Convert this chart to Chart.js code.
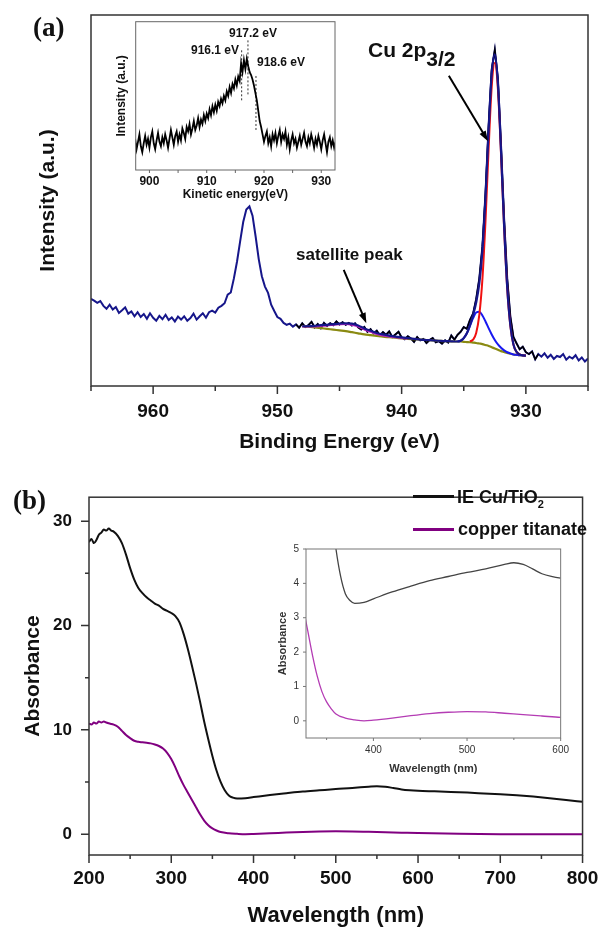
<!DOCTYPE html>
<html>
<head>
<meta charset="utf-8">
<script src="https://cdn.jsdelivr.net/npm/chart.js@4.4.1/dist/chart.umd.min.js"></script>
<style>
  body { margin: 0; background: #fff; font-family: 'Liberation Sans', Arial, sans-serif; }
  #wrap { position: relative; width: 611px; height: 929px; overflow: hidden; }
  canvas { position: absolute; }
  .lbl { position: absolute; white-space: nowrap; color: #111; }
  .panel { font-family: 'Liberation Serif', 'Times New Roman', serif; font-weight: bold; font-size: 27px; line-height: 30px; }
  .ann { font-weight: bold; font-size: 12px; line-height: 14px; }
  .leg { font-weight: bold; font-size: 18px; line-height: 22px; }
  .swatch { position: absolute; width: 41px; height: 2.5px; }
</style>
</head>
<body>
<div id="wrap">
  <canvas id="xps" width="611" height="460" style="left:0;top:0"></canvas>
  <canvas id="auger" width="245" height="205" style="left:100px;top:10px"></canvas>
  <canvas id="uv" width="611" height="459" style="left:0;top:470px"></canvas>
  <canvas id="uvZoom" width="305" height="245" style="left:270px;top:536px"></canvas>

  <div class="lbl panel" style="left:33px;top:12px">(a)</div>
  <div class="lbl" style="left:368px;top:38px;font-size:21px;line-height:24px;font-weight:bold">Cu 2p<span style="position:relative;top:9px">3/2</span></div>
  <div class="lbl" style="left:296px;top:245px;font-weight:bold;font-size:17px;line-height:20px">satellite peak</div>
  <div class="lbl ann" style="left:229px;top:26px">917.2 eV</div>
  <div class="lbl ann" style="left:191px;top:43px">916.1 eV</div>
  <div class="lbl ann" style="left:257px;top:55px">918.6 eV</div>

  <div class="lbl panel" style="left:13px;top:485px">(b)</div>
  <div class="swatch" style="left:413px;top:495px;background:#111"></div>
  <div class="lbl leg" style="left:457px;top:486px">IE Cu/TiO<sub style="font-size:11px">2</sub></div>
  <div class="swatch" style="left:413px;top:528px;background:#800080"></div>
  <div class="lbl leg" style="left:458px;top:518px">copper titanate</div>
</div>
<script>
// ---- (a) Cu 2p XPS, intensity in arbitrary units (0-100) ----
const xpsE = [
  965.00, 964.75, 964.50, 964.25,
  964.00, 963.75, 963.50, 963.25,
  963.00, 962.75, 962.50, 962.25,
  962.00, 961.75, 961.50, 961.25,
  961.00, 960.75, 960.50, 960.25,
  960.00, 959.75, 959.50, 959.25,
  959.00, 958.75, 958.50, 958.25,
  958.00, 957.75, 957.50, 957.25,
  957.00, 956.75, 956.50, 956.25,
  956.00, 955.75, 955.50, 955.25,
  955.00, 954.75, 954.50, 954.25,
  954.00, 953.75, 953.50, 953.25,
  953.00, 952.75, 952.50, 952.25,
  952.00, 951.75, 951.50, 951.25,
  951.00, 950.75, 950.50, 950.25,
  950.00, 949.75, 949.50, 949.25,
  949.00, 948.75, 948.50, 948.25,
  948.00, 947.75, 947.50, 947.25,
  947.00, 946.75, 946.50, 946.25,
  946.00, 945.75, 945.50, 945.25,
  945.00, 944.75, 944.50, 944.25,
  944.00, 943.75, 943.50, 943.25,
  943.00, 942.75, 942.50, 942.25,
  942.00, 941.75, 941.50, 941.25,
  941.00, 940.75, 940.50, 940.25,
  940.00, 939.75, 939.50, 939.25,
  939.00, 938.75, 938.50, 938.25,
  938.00, 937.75, 937.50, 937.25,
  937.00, 936.75, 936.50, 936.25,
  936.00, 935.75, 935.50, 935.25,
  935.00, 934.75, 934.50, 934.25,
  934.00, 933.75, 933.50, 933.25,
  933.00, 932.75, 932.50, 932.25,
  932.00, 931.75, 931.50, 931.25,
  931.00, 930.75, 930.50, 930.25,
  930.00, 929.75, 929.50, 929.25,
  929.00, 928.75, 928.50, 928.25,
  928.00, 927.75, 927.50, 927.25,
  927.00, 926.75, 926.50, 926.25,
  926.00, 925.75, 925.50, 925.25,
  925.00
];
const xpsI = [
  23.5, 23.0, 22.4, 22.9,
  21.6, 20.8, 21.9, 20.6,
  21.3, 19.7, 20.4, 21.2,
  19.5, 20.1, 18.8, 19.9,
  18.6, 19.4, 18.1, 19.6,
  18.4, 17.6, 18.9, 18.0,
  19.2, 17.8, 18.5, 17.4,
  18.7, 17.9, 18.8, 17.6,
  18.3, 19.5, 17.9, 18.8,
  19.6, 18.4, 19.9, 20.3,
  19.8, 21.1, 21.6, 22.3,
  24.6, 25.2, 29.0, 33.5,
  38.9, 44.2, 47.6, 48.4,
  45.9, 40.3, 34.2, 29.6,
  26.8, 25.1, 21.9, 20.2,
  18.6, 18.1, 17.0, 16.5,
  16.8, 16.0, 16.6, 15.7,
  16.9, 15.9, 16.4, 17.3,
  15.8, 16.7, 15.6, 17.0,
  16.2, 16.9, 16.4, 17.4,
  16.6, 17.2, 16.5, 17.0,
  16.3, 16.9, 15.8, 15.2,
  15.9, 14.6, 15.3, 14.2,
  14.9, 13.6, 14.5, 13.8,
  14.7, 13.2, 13.9, 14.6,
  13.1, 12.6, 13.4, 12.8,
  11.9, 13.2, 12.3, 12.7,
  11.6, 12.4, 12.9, 11.8,
  12.1, 11.4, 12.3, 11.7,
  13.6, 12.5, 13.8, 14.6,
  15.9, 15.4, 17.8, 19.5,
  23.4, 28.9, 37.5, 51.9,
  70.1, 85.3, 90.6, 82.7,
  64.8, 45.0, 28.9, 18.7,
  13.2, 11.5, 9.9, 10.6,
  9.1, 8.6, 9.3, 7.2,
  8.6, 7.9, 8.8, 7.6,
  8.4, 7.3, 8.1, 7.8,
  8.6, 7.1, 7.9, 7.4,
  8.3, 6.9, 7.7, 6.6,
  7.4
];

// fit envelope and background share one grid
const fitE = [948, 947.5, 947, 946.5, 946, 945.5, 945, 944.5, 944, 943.5, 943, 942.5, 942,
  941.5, 941, 940.5, 940, 939.5, 939, 938.5, 938, 937.5, 937, 936.5, 936,
  935.75, 935.5, 935.25, 935, 934.75, 934.5, 934.25, 934, 933.75, 933.5, 933.25, 933,
  932.75, 932.5, 932.25, 932, 931.75, 931.5, 931.25, 931, 930.75, 930.5, 930.25, 930];
const fitI = [16.1, 16.1, 16.2, 16.4, 16.5, 16.7, 16.8, 16.9, 16.8, 16.3, 15.5, 14.9, 14.3,
  13.9, 13.6, 13.3, 13.1, 12.9, 12.7, 12.5, 12.4, 12.3, 12.2, 12.1, 12.05,
  12.0, 12.0, 12.2, 12.9, 14.2, 16.4, 19.1, 22.5, 27.6, 36.4, 50.8, 68.7,
  84.1, 89.4, 81.4, 63.4, 43.0, 26.5, 16.4, 11.2, 9.2, 8.5, 8.25, 8.2];
const bgI = [16.1, 16.0, 15.8, 15.6, 15.4, 15.2, 15.0, 14.8, 14.5, 14.2, 13.9, 13.7, 13.5,
  13.3, 13.15, 13.0, 12.85, 12.7, 12.6, 12.5, 12.4, 12.3, 12.2, 12.1, 12.05,
  12.0, 12.0, 12.0, 11.9, 11.85, 11.8, 11.7, 11.6, 11.45, 11.3, 11.05, 10.8,
  10.45, 10.1, 9.75, 9.4, 9.15, 8.9, 8.7, 8.5, 8.4, 8.3, 8.25, 8.2];

const mainE = [934.5, 934.25, 934, 933.75, 933.5, 933.25, 933, 932.75, 932.5, 932.25,
  932, 931.75, 931.5, 931.25, 931, 930.75, 930.5, 930.25, 930];
const mainI = [12.0, 12.5, 14.3, 19.1, 28.7, 44.5, 63.9, 80.7, 87.1, 80.0,
  62.5, 42.6, 26.3, 16.3, 11.2, 9.2, 8.5, 8.25, 8.2];

const shakeE = [935.5, 935.25, 935, 934.75, 934.5, 934.25, 934, 933.75, 933.5, 933.25, 933,
  932.75, 932.5, 932.25, 932, 931.75, 931.5, 931.25, 931, 930.75, 930.5, 930.25, 930];
const shakeI = [12.0, 12.2, 12.9, 14.2, 16.2, 18.3, 19.8, 20.0, 19.0, 17.4, 15.6,
  13.9, 12.4, 11.2, 10.3, 9.6, 9.1, 8.8, 8.5, 8.4, 8.3, 8.25, 8.2];

const satE = [948, 947, 946, 945, 944.5, 944, 943.5, 943, 942.5, 942, 941.5, 941, 940.5, 940, 939.5];
const satI = [16.0, 16.0, 16.3, 16.6, 16.7, 16.5, 16.0, 15.2, 14.6, 14.0, 13.6, 13.3, 13.1, 12.9, 12.75];

const xpsMajor = [960, 950, 940, 930];
const xpsMinor = [965, 955, 945, 935, 925];

// inset: Cu LMM Auger, kinetic energy
const augerE = [
  897.50, 897.75,
  898.00, 898.25, 898.50, 898.75,
  899.00, 899.25, 899.50, 899.75,
  900.00, 900.25, 900.50, 900.75,
  901.00, 901.25, 901.50, 901.75,
  902.00, 902.25, 902.50, 902.75,
  903.00, 903.25, 903.50, 903.75,
  904.00, 904.25, 904.50, 904.75,
  905.00, 905.25, 905.50, 905.75,
  906.00, 906.25, 906.50, 906.75,
  907.00, 907.25, 907.50, 907.75,
  908.00, 908.25, 908.50, 908.75,
  909.00, 909.25, 909.50, 909.75,
  910.00, 910.25, 910.50, 910.75,
  911.00, 911.25, 911.50, 911.75,
  912.00, 912.25, 912.50, 912.75,
  913.00, 913.25, 913.50, 913.75,
  914.00, 914.25, 914.50, 914.75,
  915.00, 915.25, 915.50, 915.75,
  916.00, 916.25, 916.50, 916.75,
  917.00, 917.25, 917.50, 917.75,
  918.00, 918.25, 918.50, 918.75,
  919.00, 919.25, 919.50, 919.75,
  920.00, 920.25, 920.50, 920.75,
  921.00, 921.25, 921.50, 921.75,
  922.00, 922.25, 922.50, 922.75,
  923.00, 923.25, 923.50, 923.75,
  924.00, 924.25, 924.50, 924.75,
  925.00, 925.25, 925.50, 925.75,
  926.00, 926.25, 926.50, 926.75,
  927.00, 927.25, 927.50, 927.75,
  928.00, 928.25, 928.50, 928.75,
  929.00, 929.25, 929.50, 929.75,
  930.00, 930.25, 930.50, 930.75,
  931.00, 931.25, 931.50, 931.75,
  932.00, 932.25, 932.50
];
const augerI = [
  21, 14,
  19, 24, 16, 12,
  18, 23, 17, 21,
  15, 22, 26, 18,
  14, 20, 25, 19,
  16, 22, 18, 24,
  20, 15, 21, 27,
  22, 17, 23, 26,
  19, 24, 20, 28,
  25, 21, 29, 26,
  31, 24, 28, 33,
  27, 30, 35, 29,
  34, 31, 37, 33,
  38, 35, 41, 37,
  43, 39, 44, 40,
  46, 43, 48, 45,
  50, 47, 53, 50,
  56, 52, 58, 55,
  61, 57, 63, 60,
  72, 66, 74, 68,
  75, 70, 66, 64,
  61, 57, 52, 47,
  40, 33, 29, 24,
  19, 23, 26, 18,
  22, 16, 24, 20,
  25, 18, 23, 27,
  19, 24, 21, 26,
  17, 22, 14, 20,
  24, 18, 21, 15,
  19, 23, 17, 21,
  25, 19, 16, 22,
  18, 24, 20, 15,
  21, 17, 23, 19,
  14, 20, 24, 18,
  12, 19, 22, 16,
  20, 15, 19
];
const markE = [916.1, 917.2, 918.6];
const markLow = [47, 51, 27];
const markHigh = [82, 88, 64];
const augerMajor = [900, 910, 920, 930];
const augerMinor = [905, 915, 925];

// ---- (b) UV-vis absorbance ----
const cuNm = [200, 203, 206, 209, 212, 215, 218, 221, 224, 227, 230,
  235, 240, 245, 250, 255, 260, 265, 270, 275, 280, 285, 290, 295, 300, 305, 310, 315, 320,
  325, 330, 335, 340, 345, 350, 355, 360, 365, 370, 375, 380, 390, 400,
  420, 440, 460, 480, 500, 520, 540, 550, 560, 570, 580, 590, 600,
  620, 640, 660, 680, 700, 720, 740, 760, 780, 800];
const cuAbs = [28.0, 28.3, 27.9, 28.2, 28.7, 28.9, 29.2, 29.1, 29.3, 29.1, 29.0,
  28.6, 27.9, 26.8, 25.5, 24.4, 23.6, 23.1, 22.7, 22.4, 22.1, 21.9, 21.6, 21.4, 21.2, 20.9, 20.3, 19.2, 17.8,
  16.2, 14.5, 12.7, 10.8, 9.1, 7.5, 6.1, 5.0, 4.2, 3.7, 3.5, 3.42, 3.45, 3.55,
  3.75, 3.92, 4.08, 4.2, 4.32, 4.42, 4.55, 4.6, 4.55, 4.42, 4.28, 4.2, 4.15,
  4.1, 4.05, 3.98, 3.9, 3.82, 3.72, 3.6, 3.45, 3.28, 3.1];

const tiNm = [200, 203, 206, 209, 212, 215, 218, 221, 225,
  230, 235, 240, 245, 250, 255, 260, 265, 270, 275, 280, 285, 290, 295, 300, 305, 310,
  315, 320, 325, 330, 335, 340, 345, 350, 355, 360, 370, 380, 390, 400,
  420, 440, 460, 480, 500, 520, 540, 560, 580, 600, 650, 700, 750, 800];
const tiAbs = [10.6, 10.5, 10.7, 10.6, 10.8, 10.7, 10.8, 10.7, 10.6,
  10.5, 10.3, 9.9, 9.5, 9.2, 8.95, 8.85, 8.8, 8.75, 8.7, 8.6, 8.45, 8.2, 7.8, 7.2, 6.4, 5.5,
  4.7, 4.0, 3.3, 2.6, 1.9, 1.3, 0.85, 0.55, 0.35, 0.2, 0.08, 0.03, 0.0, 0.02,
  0.08, 0.15, 0.21, 0.25, 0.27, 0.26, 0.22, 0.18, 0.14, 0.1, 0.03, 0.0, 0.0, -0.02];

const uvMajor = [200, 300, 400, 500, 600, 700, 800];
const uvMinor = [250, 350, 450, 550, 650, 750];
const absMajor = [0, 10, 20, 30];
const absMinor = [5, 15, 25];
const zoomMajor = [400, 500, 600];
const zoomMinor = [350, 450, 550];
const zoomAbs = [0, 1, 2, 3, 4, 5];

Chart.defaults.font.family = "'Liberation Sans', Arial, sans-serif";
Chart.defaults.color = '#111';

const NAVY = '#16168a';
const pts = (xs, ys) => xs.map((x, i) => ({x: x, y: ys[i]}));
const bold = size => ({size: size, weight: 'bold'});
const fixTicks = vals => scale => { scale.ticks = vals.map(v => ({value: v})); };
const noGrid = {display: false, drawTicks: false};

// box round the plot area plus outward tick marks (major and minor)
function frame(c) {
  return {
    id: 'frame',
    afterDraw(chart) {
      const {ctx, chartArea: a, scales: {x, y}} = chart;
      ctx.save();
      ctx.strokeStyle = c.color;
      ctx.lineWidth = c.width;
      ctx.strokeRect(a.left, a.top, a.right - a.left, a.bottom - a.top);
      ctx.beginPath();
      const tx = (vals, len) => vals.forEach(v => {
        const p = x.getPixelForValue(v);
        ctx.moveTo(p, a.bottom); ctx.lineTo(p, a.bottom + len);
      });
      const ty = (vals, len) => vals.forEach(v => {
        const p = y.getPixelForValue(v);
        ctx.moveTo(a.left, p); ctx.lineTo(a.left - len, p);
      });
      tx(c.xMajor, c.major); tx(c.xMinor, c.minor);
      ty(c.yMajor || [], c.major); ty(c.yMinor || [], c.minor);
      ctx.stroke();
      ctx.restore();
    }
  };
}

function arrows(list) {
  return {
    id: 'arrows',
    afterDatasetsDraw(chart) {
      const {ctx, scales: {x, y}} = chart;
      list.forEach(a => {
        const x1 = x.getPixelForValue(a.from[0]), y1 = y.getPixelForValue(a.from[1]);
        const x2 = x.getPixelForValue(a.to[0]), y2 = y.getPixelForValue(a.to[1]);
        const ang = Math.atan2(y2 - y1, x2 - x1), head = 11;
        ctx.save();
        ctx.strokeStyle = '#000'; ctx.fillStyle = '#000'; ctx.lineWidth = 2;
        ctx.beginPath();
        ctx.moveTo(x1, y1);
        ctx.lineTo(x2 - head * 0.8 * Math.cos(ang), y2 - head * 0.8 * Math.sin(ang));
        ctx.stroke();
        ctx.beginPath();
        ctx.moveTo(x2, y2);
        ctx.lineTo(x2 - head * Math.cos(ang - 0.33), y2 - head * Math.sin(ang - 0.33));
        ctx.lineTo(x2 - head * Math.cos(ang + 0.33), y2 - head * Math.sin(ang + 0.33));
        ctx.closePath();
        ctx.fill();
        ctx.restore();
      });
    }
  };
}

const base = {
  responsive: false,
  animation: false,
  devicePixelRatio: 1,
  elements: {point: {radius: 0}},
  plugins: {legend: {display: false}, tooltip: {enabled: false}}
};

// (a) main
new Chart(document.getElementById('xps'), {
  type: 'line',
  data: {datasets: [
    {data: pts(fitE, fitI), borderColor: NAVY, borderWidth: 2.2, cubicInterpolationMode: 'monotone', order: 0},
    {data: pts(mainE, mainI), borderColor: '#f01010', borderWidth: 2, cubicInterpolationMode: 'monotone', order: 1},
    {data: pts(shakeE, shakeI), borderColor: '#1818f0', borderWidth: 2, cubicInterpolationMode: 'monotone', order: 2},
    {data: pts(satE, satI), borderColor: '#c020c0', borderWidth: 1.8, cubicInterpolationMode: 'monotone', order: 3},
    {data: pts(fitE, bgI), borderColor: '#8a8a12', borderWidth: 2.2, cubicInterpolationMode: 'monotone', order: 4},
    {data: pts(xpsE, xpsI).filter(p => p.x <= 948.5 && p.x >= 929), borderColor: '#000', borderWidth: 1.6, order: 5},
    {data: pts(xpsE, xpsI), borderColor: NAVY, borderWidth: 2, order: 6}
  ]},
  options: {
    ...base,
    layout: {padding: {top: 15, right: 23, left: 0, bottom: 0}},
    scales: {
      x: {
        type: 'linear', reverse: true, min: 925, max: 965,
        afterBuildTicks: fixTicks(xpsMajor),
        afterFit: s => { s.height = 74; },
        grid: noGrid, border: {display: false},
        ticks: {padding: 14, font: bold(19), maxRotation: 0, autoSkip: false},
        title: {display: true, text: 'Binding Energy (eV)', font: bold(21), padding: {top: 0, bottom: 5.4}}
      },
      y: {
        min: 0, max: 100,
        afterFit: s => { s.width = 91; },
        grid: noGrid, border: {display: false},
        ticks: {display: false},
        title: {display: true, text: 'Intensity (a.u.)', font: bold(21), padding: {top: 35.4, bottom: 0}}
      }
    }
  },
  plugins: [
    frame({color: '#333', width: 1.5, xMajor: xpsMajor, xMinor: xpsMinor, major: 8, minor: 5}),
    arrows([{from: [936.2, 83.6], to: [933.05, 66]}, {from: [944.66, 31.3], to: [942.84, 16.9]}])
  ]
});

// (a) inset
new Chart(document.getElementById('auger'), {
  type: 'line',
  data: {datasets: [
    {data: pts(augerE, augerI), borderColor: '#000', borderWidth: 1.8, order: 0},
    ...markE.map((e, i) => ({
      data: [{x: e, y: markLow[i]}, {x: e, y: markHigh[i]}],
      borderColor: '#333', borderWidth: 1, borderDash: [2, 2], order: 1
    }))
  ]},
  options: {
    ...base,
    layout: {padding: {top: 11.7, right: 10, left: 0, bottom: 0}},
    scales: {
      x: {
        type: 'linear', min: 897.6, max: 932.4,
        afterBuildTicks: fixTicks(augerMajor),
        afterFit: s => { s.height = 45; },
        grid: noGrid, border: {display: false},
        ticks: {padding: 4.8, font: bold(12), maxRotation: 0, autoSkip: false},
        title: {display: true, text: 'Kinetic energy(eV)', font: bold(12), padding: {top: 0, bottom: 12.8}}
      },
      y: {
        min: 0, max: 100,
        afterFit: s => { s.width = 35.7; },
        grid: noGrid, border: {display: false},
        ticks: {display: false},
        title: {display: true, text: 'Intensity (a.u.)', font: bold(12), padding: {top: 14.8, bottom: 0}}
      }
    }
  },
  plugins: [frame({color: '#666', width: 1, xMajor: augerMajor, xMinor: augerMinor, major: 3, minor: 3})]
});

// (b) main
new Chart(document.getElementById('uv'), {
  type: 'line',
  data: {datasets: [
    {data: pts(cuNm, cuAbs), borderColor: '#111', borderWidth: 2, cubicInterpolationMode: 'monotone'},
    {data: pts(tiNm, tiAbs), borderColor: '#800080', borderWidth: 2, cubicInterpolationMode: 'monotone'}
  ]},
  options: {
    ...base,
    layout: {padding: {top: 11, right: 20, left: 0, bottom: 0}},
    scales: {
      x: {
        type: 'linear', min: 200, max: 800,
        afterBuildTicks: fixTicks(uvMajor),
        afterFit: s => { s.height = 74; },
        grid: noGrid, border: {display: false},
        ticks: {padding: 12.6, font: bold(19), maxRotation: 0, autoSkip: false},
        title: {display: true, text: 'Wavelength (nm)', font: bold(22), padding: {top: 0, bottom: 0}}
      },
      y: {
        min: -2, max: 32.3,
        afterBuildTicks: fixTicks(absMajor),
        afterFit: s => { s.width = 89; },
        grid: noGrid, border: {display: false},
        ticks: {padding: 17, font: bold(17), autoSkip: false},
        title: {display: true, text: 'Absorbance', font: bold(21), padding: {top: 20.4, bottom: 0}}
      }
    }
  },
  plugins: [frame({color: '#333', width: 1.5, xMajor: uvMajor, xMinor: uvMinor, yMajor: absMajor, yMinor: absMinor, major: 8, minor: 4})]
});

// (b) inset, same spectra zoomed in
new Chart(document.getElementById('uvZoom'), {
  type: 'line',
  data: {datasets: [
    {data: pts(cuNm, cuAbs), borderColor: '#444', borderWidth: 1.3, cubicInterpolationMode: 'monotone'},
    {data: pts(tiNm, tiAbs), borderColor: '#b43cb4', borderWidth: 1.3, cubicInterpolationMode: 'monotone'}
  ]},
  options: {
    ...base,
    layout: {padding: {top: 10, right: 10, left: 0, bottom: 0}},
    scales: {
      x: {
        type: 'linear', min: 328, max: 600,
        afterBuildTicks: fixTicks(zoomMajor),
        afterFit: s => { s.height = 43; },
        grid: noGrid, border: {display: false},
        ticks: {padding: 6, font: {size: 10}, color: '#333', maxRotation: 0, autoSkip: false},
        title: {display: true, text: 'Wavelength (nm)', font: bold(11), color: '#333', padding: {top: 0, bottom: 5.4}}
      },
      y: {
        min: -0.5, max: 5,
        afterBuildTicks: fixTicks(zoomAbs),
        afterFit: s => { s.width = 36; },
        grid: noGrid, border: {display: false},
        ticks: {padding: 7, font: {size: 10}, color: '#333', autoSkip: false},
        title: {display: true, text: 'Absorbance', font: bold(11), color: '#333', padding: {top: 6.4, bottom: 0}}
      }
    }
  },
  plugins: [frame({color: '#777', width: 1, xMajor: zoomMajor, xMinor: zoomMinor, yMajor: zoomAbs, yMinor: [], major: 3, minor: 2})]
});
</script>
</body>
</html>
